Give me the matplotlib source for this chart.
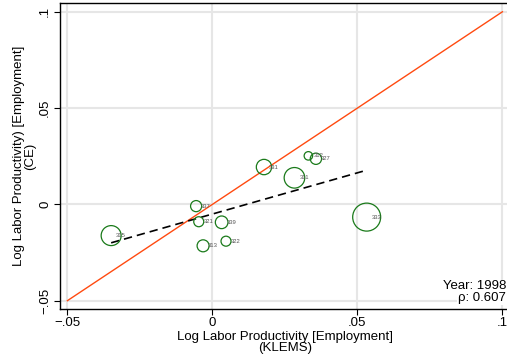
import matplotlib
matplotlib.use("Agg")
import matplotlib.pyplot as plt
import numpy as np

# Industry codes (NAICS 3-digit) and log labor productivity growth, 1998
industries = ["315", "337", "321", "339", "313", "322", "331", "311", "312", "327", "333"]
klems = [-0.0349, -0.0056, -0.0047, 0.0032, -0.0032, 0.0047, 0.0178, 0.0283, 0.0331, 0.0357, 0.0532]
ce = [-0.0162, -0.0009, -0.0090, -0.0093, -0.0215, -0.0191, 0.0194, 0.0138, 0.0252, 0.0237, -0.0066]
# employment weights (marker area)
weights = [100, 31, 25, 40, 36, 25, 59, 106, 18, 32, 196]

tick_values = [-0.05, 0.0, 0.05, 0.1]
tick_labels = ["\u2212.05", "0", ".05", ".1"]
year_text = "Year: 1998"
rho_text = "\u03c1: 0.607"

plt.rcParams["font.family"] = ["Liberation Sans", "DejaVu Sans"]

x = np.array(klems)
y = np.array(ce)
w = np.array(weights, dtype=float)

fig = plt.figure(figsize=(5.07, 3.60), dpi=100)
ax = fig.add_axes([0.1174, 0.1417, 0.8890, 0.8486])

ax.set_xlim(-0.0527, 0.1027)
ax.set_ylim(-0.0543, 0.1043)

# grid
for v in tick_values:
    ax.axvline(v, color="#e6e6e6", lw=1.5, zorder=0)
    ax.axhline(v, color="#e6e6e6", lw=1.5, zorder=0)

# 45-degree line
ax.plot([tick_values[0], tick_values[-1]], [tick_values[0], tick_values[-1]],
        color="#ff4a10", lw=1.0, zorder=2)

# OLS fit over observed range
slope, intercept = np.polyfit(x, y, 1)
xf = np.array([x.min(), x.max()])
ax.plot(xf, intercept + slope * xf, color="black", lw=1.2,
        dashes=(5, 3), zorder=3)

# weighted circles
ax.scatter(x, y, s=w * 2.07, facecolors="none", edgecolors="#1a7a1a",
           linewidths=0.9, zorder=4)

for xi, yi, lab in zip(x, y, industries):
    ax.annotate(lab, (xi, yi), xytext=(3.6, 0), textcoords="offset points",
                fontsize=4.2, color="#555555", va="center", ha="left", zorder=5)

ax.set_xticks(tick_values)
ax.set_xticklabels(tick_labels)
ax.set_yticks(tick_values)
ax.set_yticklabels(tick_labels, rotation=90, va="center")
ax.tick_params(axis="both", direction="out", length=4, width=0.8,
               labelsize=9.5, pad=2, colors="black")

for side in ["left", "bottom", "top"]:
    ax.spines[side].set_linewidth(1.0)
ax.spines["right"].set_visible(False)

ax.set_xlabel("Log Labor Productivity [Employment]\n(KLEMS)", fontsize=9.5,
              linespacing=0.95, labelpad=1)
ax.set_ylabel("Log Labor Productivity) [Employment]\n(CE)", fontsize=9.5,
              linespacing=0.95, labelpad=2)

fig.text(0.998, 0.205, year_text, ha="right", va="center", fontsize=9.5,
         bbox=dict(facecolor="white", edgecolor="none", pad=0.5))
fig.text(0.998, 0.172, rho_text, ha="right", va="center", fontsize=9.5,
         bbox=dict(facecolor="white", edgecolor="none", pad=0.5))

fig.savefig("out.png", dpi=100)
